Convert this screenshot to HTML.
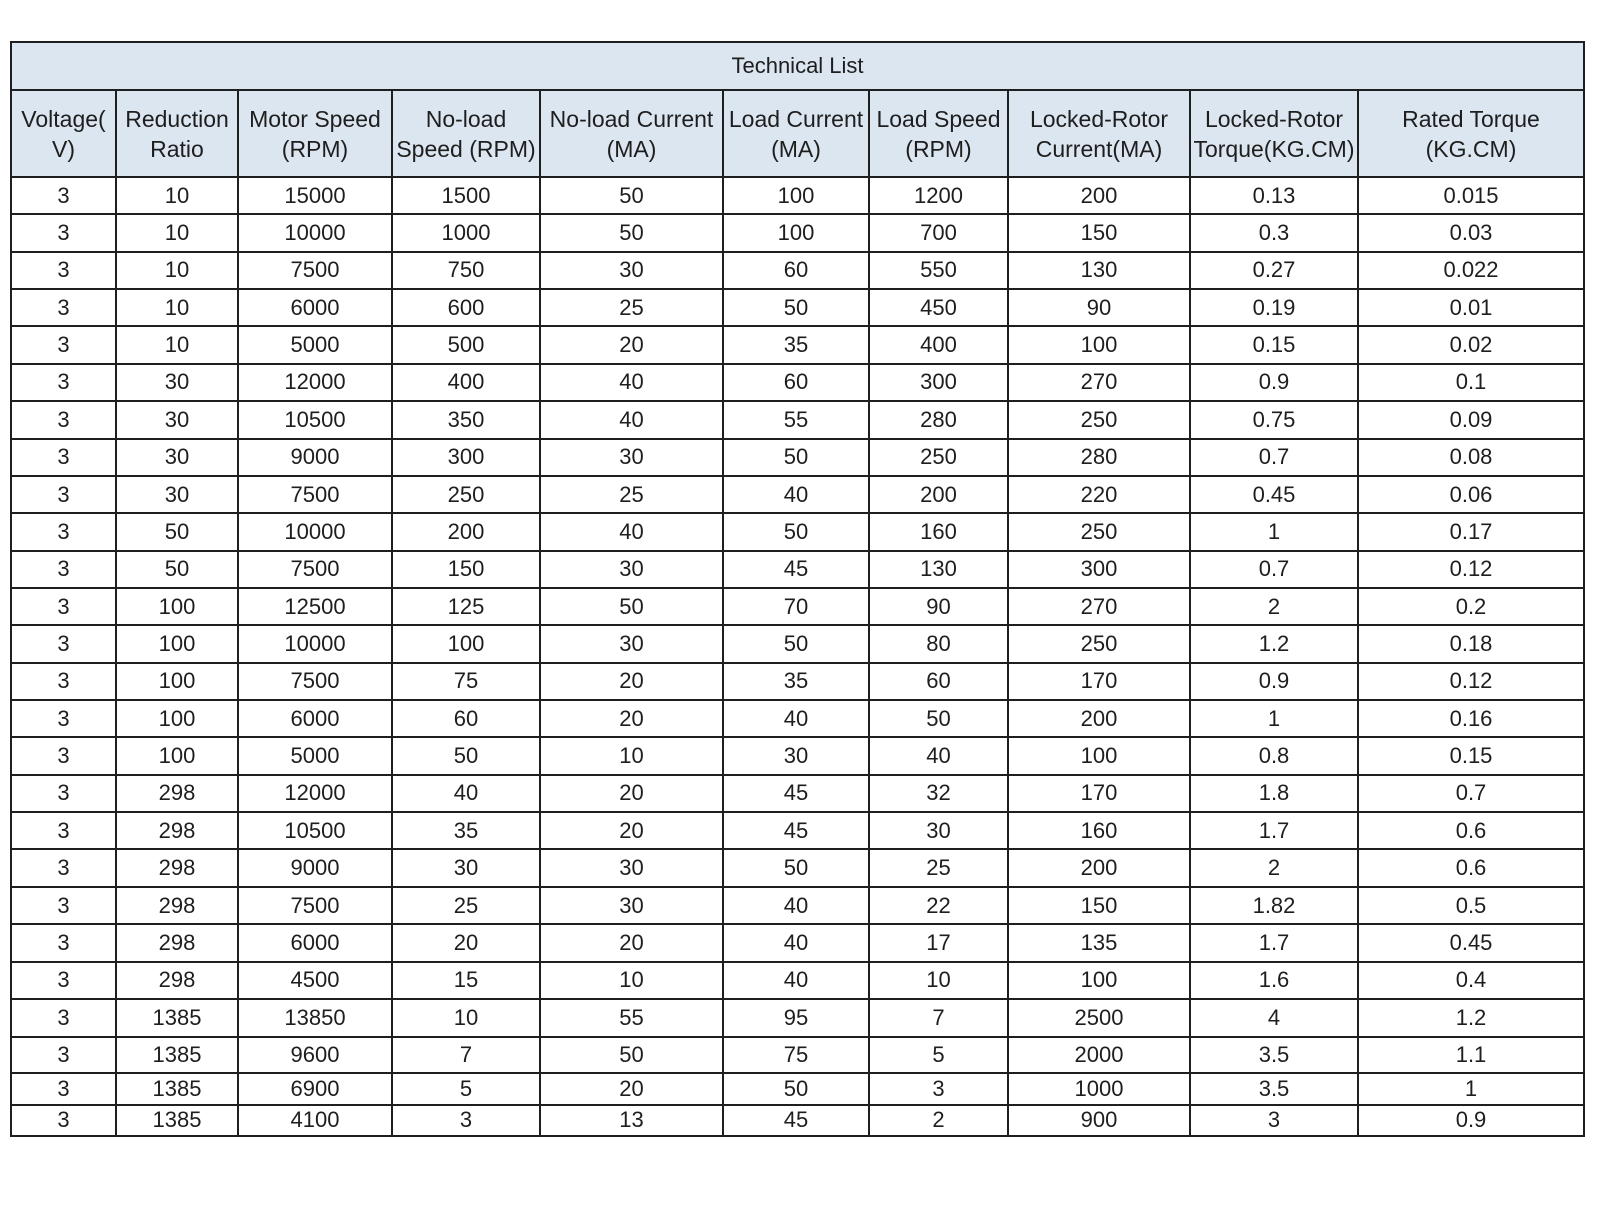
<!DOCTYPE html>
<html>
<head>
<meta charset="utf-8">
<style>
  html, body { margin:0; padding:0; background:#ffffff; }
  body { width:1600px; height:1208px; position:relative; overflow:hidden; }
  table {
    position:absolute; left:10px; top:41px;
    width:1575px;
    border-collapse:collapse;
    table-layout:fixed;
    font-family:"Liberation Sans", Arial, sans-serif;
    color:#1e1e1e;
  }
  td {
    border:2px solid #1f1f1f;
    text-align:center;
    vertical-align:middle;
    padding:0;
    font-size:22px;
    white-space:nowrap;
    overflow:visible;
    line-height:24px;
  }
  tr.title td { background:#dce6f0; font-size:22px; height:46px; }
  tr.head td { background:#dce6f0; font-size:23px; line-height:30px; height:85px; }
  tr.r td { height:35.36px; }
  tr.r23 td { height:36px; }
  tr.r24 td { height:34.5px; }
  tr.r25 td { height:29.5px; }
  tr.r26 td { height:29px; }
</style>
</head>
<body>
<table>
  <colgroup>
    <col style="width:105px">
    <col style="width:122px">
    <col style="width:154px">
    <col style="width:148px">
    <col style="width:183px">
    <col style="width:146px">
    <col style="width:139px">
    <col style="width:182px">
    <col style="width:168px">
    <col style="width:226px">
  </colgroup>
  <tr class="title"><td colspan="10">Technical List</td></tr>
  <tr class="head">
    <td>Voltage(<br>V)</td>
    <td>Reduction<br>Ratio</td>
    <td>Motor Speed<br>(RPM)</td>
    <td>No-load<br>Speed (RPM)</td>
    <td>No-load Current<br>(MA)</td>
    <td>Load Current<br>(MA)</td>
    <td>Load Speed<br>(RPM)</td>
    <td>Locked-Rotor<br>Current(MA)</td>
    <td>Locked-Rotor<br>Torque(KG.CM)</td>
    <td>Rated Torque<br>(KG.CM)</td>
  </tr>
  <tr class="r"><td>3</td><td>10</td><td>15000</td><td>1500</td><td>50</td><td>100</td><td>1200</td><td>200</td><td>0.13</td><td>0.015</td></tr>
  <tr class="r"><td>3</td><td>10</td><td>10000</td><td>1000</td><td>50</td><td>100</td><td>700</td><td>150</td><td>0.3</td><td>0.03</td></tr>
  <tr class="r"><td>3</td><td>10</td><td>7500</td><td>750</td><td>30</td><td>60</td><td>550</td><td>130</td><td>0.27</td><td>0.022</td></tr>
  <tr class="r"><td>3</td><td>10</td><td>6000</td><td>600</td><td>25</td><td>50</td><td>450</td><td>90</td><td>0.19</td><td>0.01</td></tr>
  <tr class="r"><td>3</td><td>10</td><td>5000</td><td>500</td><td>20</td><td>35</td><td>400</td><td>100</td><td>0.15</td><td>0.02</td></tr>
  <tr class="r"><td>3</td><td>30</td><td>12000</td><td>400</td><td>40</td><td>60</td><td>300</td><td>270</td><td>0.9</td><td>0.1</td></tr>
  <tr class="r"><td>3</td><td>30</td><td>10500</td><td>350</td><td>40</td><td>55</td><td>280</td><td>250</td><td>0.75</td><td>0.09</td></tr>
  <tr class="r"><td>3</td><td>30</td><td>9000</td><td>300</td><td>30</td><td>50</td><td>250</td><td>280</td><td>0.7</td><td>0.08</td></tr>
  <tr class="r"><td>3</td><td>30</td><td>7500</td><td>250</td><td>25</td><td>40</td><td>200</td><td>220</td><td>0.45</td><td>0.06</td></tr>
  <tr class="r"><td>3</td><td>50</td><td>10000</td><td>200</td><td>40</td><td>50</td><td>160</td><td>250</td><td>1</td><td>0.17</td></tr>
  <tr class="r"><td>3</td><td>50</td><td>7500</td><td>150</td><td>30</td><td>45</td><td>130</td><td>300</td><td>0.7</td><td>0.12</td></tr>
  <tr class="r"><td>3</td><td>100</td><td>12500</td><td>125</td><td>50</td><td>70</td><td>90</td><td>270</td><td>2</td><td>0.2</td></tr>
  <tr class="r"><td>3</td><td>100</td><td>10000</td><td>100</td><td>30</td><td>50</td><td>80</td><td>250</td><td>1.2</td><td>0.18</td></tr>
  <tr class="r"><td>3</td><td>100</td><td>7500</td><td>75</td><td>20</td><td>35</td><td>60</td><td>170</td><td>0.9</td><td>0.12</td></tr>
  <tr class="r"><td>3</td><td>100</td><td>6000</td><td>60</td><td>20</td><td>40</td><td>50</td><td>200</td><td>1</td><td>0.16</td></tr>
  <tr class="r"><td>3</td><td>100</td><td>5000</td><td>50</td><td>10</td><td>30</td><td>40</td><td>100</td><td>0.8</td><td>0.15</td></tr>
  <tr class="r"><td>3</td><td>298</td><td>12000</td><td>40</td><td>20</td><td>45</td><td>32</td><td>170</td><td>1.8</td><td>0.7</td></tr>
  <tr class="r"><td>3</td><td>298</td><td>10500</td><td>35</td><td>20</td><td>45</td><td>30</td><td>160</td><td>1.7</td><td>0.6</td></tr>
  <tr class="r"><td>3</td><td>298</td><td>9000</td><td>30</td><td>30</td><td>50</td><td>25</td><td>200</td><td>2</td><td>0.6</td></tr>
  <tr class="r"><td>3</td><td>298</td><td>7500</td><td>25</td><td>30</td><td>40</td><td>22</td><td>150</td><td>1.82</td><td>0.5</td></tr>
  <tr class="r"><td>3</td><td>298</td><td>6000</td><td>20</td><td>20</td><td>40</td><td>17</td><td>135</td><td>1.7</td><td>0.45</td></tr>
  <tr class="r"><td>3</td><td>298</td><td>4500</td><td>15</td><td>10</td><td>40</td><td>10</td><td>100</td><td>1.6</td><td>0.4</td></tr>
  <tr class="r23"><td>3</td><td>1385</td><td>13850</td><td>10</td><td>55</td><td>95</td><td>7</td><td>2500</td><td>4</td><td>1.2</td></tr>
  <tr class="r24"><td>3</td><td>1385</td><td>9600</td><td>7</td><td>50</td><td>75</td><td>5</td><td>2000</td><td>3.5</td><td>1.1</td></tr>
  <tr class="r25"><td>3</td><td>1385</td><td>6900</td><td>5</td><td>20</td><td>50</td><td>3</td><td>1000</td><td>3.5</td><td>1</td></tr>
  <tr class="r26"><td>3</td><td>1385</td><td>4100</td><td>3</td><td>13</td><td>45</td><td>2</td><td>900</td><td>3</td><td>0.9</td></tr>
</table>
</body>
</html>
